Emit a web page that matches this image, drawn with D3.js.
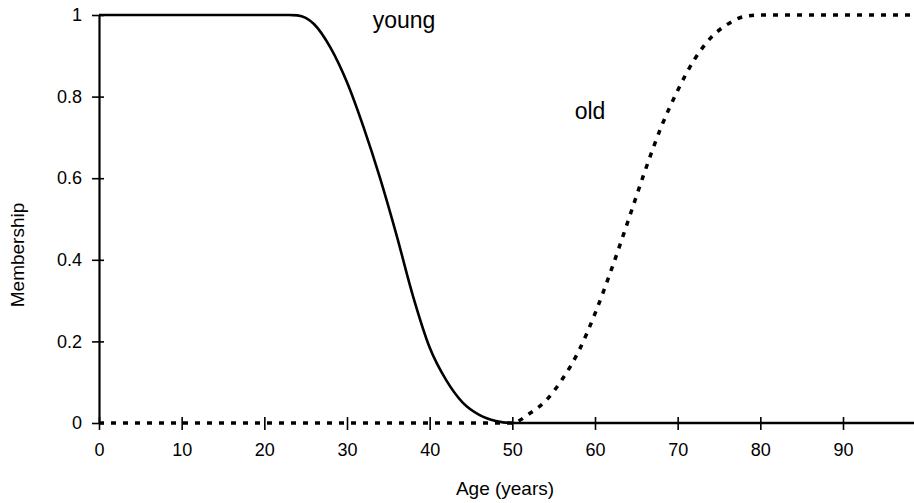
<!DOCTYPE html>
<html>
<head>
<meta charset="utf-8">
<script src="https://cdn.jsdelivr.net/npm/d3@7"></script>
<style>
  body { margin: 0; background: #fff; }
  svg { display: block; font-family: "Liberation Sans", Arial, sans-serif; }
</style>
</head>
<body>
<svg id="chart" width="914" height="503"></svg>
<script>
// ages (years) and membership values
var youngAge = [0, 10, 20, 23, 24, 25, 26, 28, 30, 32, 34, 36, 38, 40, 42, 44, 46, 48, 50, 60, 70, 80, 90, 99];
var youngVal = [1, 1, 1, 1, 0.999, 0.993, 0.978, 0.92, 0.835, 0.725, 0.6, 0.46, 0.31, 0.185, 0.105, 0.05, 0.02, 0.005, 0, 0, 0, 0, 0, 0];

var oldAge = [0, 10, 20, 30, 40, 50, 52, 54, 56, 58, 60, 62, 64, 66, 68, 70, 72, 74, 76, 78, 80, 90, 99];
var oldVal = [0, 0, 0, 0, 0, 0, 0.022, 0.054, 0.106, 0.175, 0.268, 0.377, 0.495, 0.615, 0.725, 0.815, 0.89, 0.944, 0.977, 0.996, 1, 1, 1];

var xTicks = [0, 10, 20, 30, 40, 50, 60, 70, 80, 90];
var yTicks = [0, 0.2, 0.4, 0.6, 0.8, 1];

function init() {
  var svg = d3.select("#chart");

  var x = d3.scaleLinear().domain([0, 90]).range([99, 843]);
  var y = d3.scaleLinear().domain([0, 1]).range([423, 15]);

  // y axis with ticks crossing the line
  var yAxis = svg.append("g")
    .attr("transform", "translate(" + x(0) + ",0)")
    .call(d3.axisLeft(y).tickValues(yTicks).tickSizeOuter(0).tickSizeInner(7).tickPadding(10)
      .tickFormat(function(d) { return d === 0 || d === 1 ? d3.format("d")(d) : d3.format(".1f")(d); }));
  yAxis.select(".domain").attr("stroke", "#000").attr("stroke-width", 2.2);
  yAxis.selectAll(".tick line").attr("x2", -7).attr("x1", 5).attr("stroke-width", 1.6);
  yAxis.selectAll("text").style("font-size", "18px").attr("fill", "#000");

  // x axis: no line, only crossing ticks
  var xAxis = svg.append("g")
    .attr("transform", "translate(0," + y(0) + ")")
    .call(d3.axisBottom(x).tickValues(xTicks).tickSizeOuter(0).tickSizeInner(7).tickPadding(13));
  xAxis.select(".domain").remove();
  xAxis.selectAll(".tick line").attr("y1", -6).attr("stroke-width", 1.6);
  xAxis.selectAll("text").style("font-size", "18px").attr("fill", "#000");

  var line = d3.line()
    .x(function(d) { return x(d[0]); })
    .y(function(d) { return y(d[1]); })
    .curve(d3.curveMonotoneX);

  var young = d3.zip(youngAge, youngVal);
  var old = d3.zip(oldAge, oldVal);

  svg.append("path")
    .datum(old)
    .attr("d", line)
    .attr("fill", "none")
    .attr("stroke", "#000")
    .attr("stroke-width", 3.5)
    .attr("stroke-dasharray", "5,7");

  svg.append("path")
    .datum(young)
    .attr("d", line)
    .attr("fill", "none")
    .attr("stroke", "#000")
    .attr("stroke-width", 2.6);

  // curve labels
  svg.append("text")
    .attr("x", x(36.9))
    .attr("y", y(0.968))
    .attr("text-anchor", "middle")
    .style("font-size", "23px")
    .text("young");

  svg.append("text")
    .attr("x", x(59.4))
    .attr("y", y(0.745))
    .attr("text-anchor", "middle")
    .style("font-size", "23px")
    .text("old");

  // axis titles
  svg.append("text")
    .attr("x", 505)
    .attr("y", 495)
    .attr("text-anchor", "middle")
    .style("font-size", "19px")
    .text("Age (years)");

  svg.append("text")
    .attr("transform", "translate(24," + 255 + ") rotate(-90)")
    .attr("text-anchor", "middle")
    .style("font-size", "19px")
    .text("Membership");
}

window.onload = init;
</script>
</body>
</html>
